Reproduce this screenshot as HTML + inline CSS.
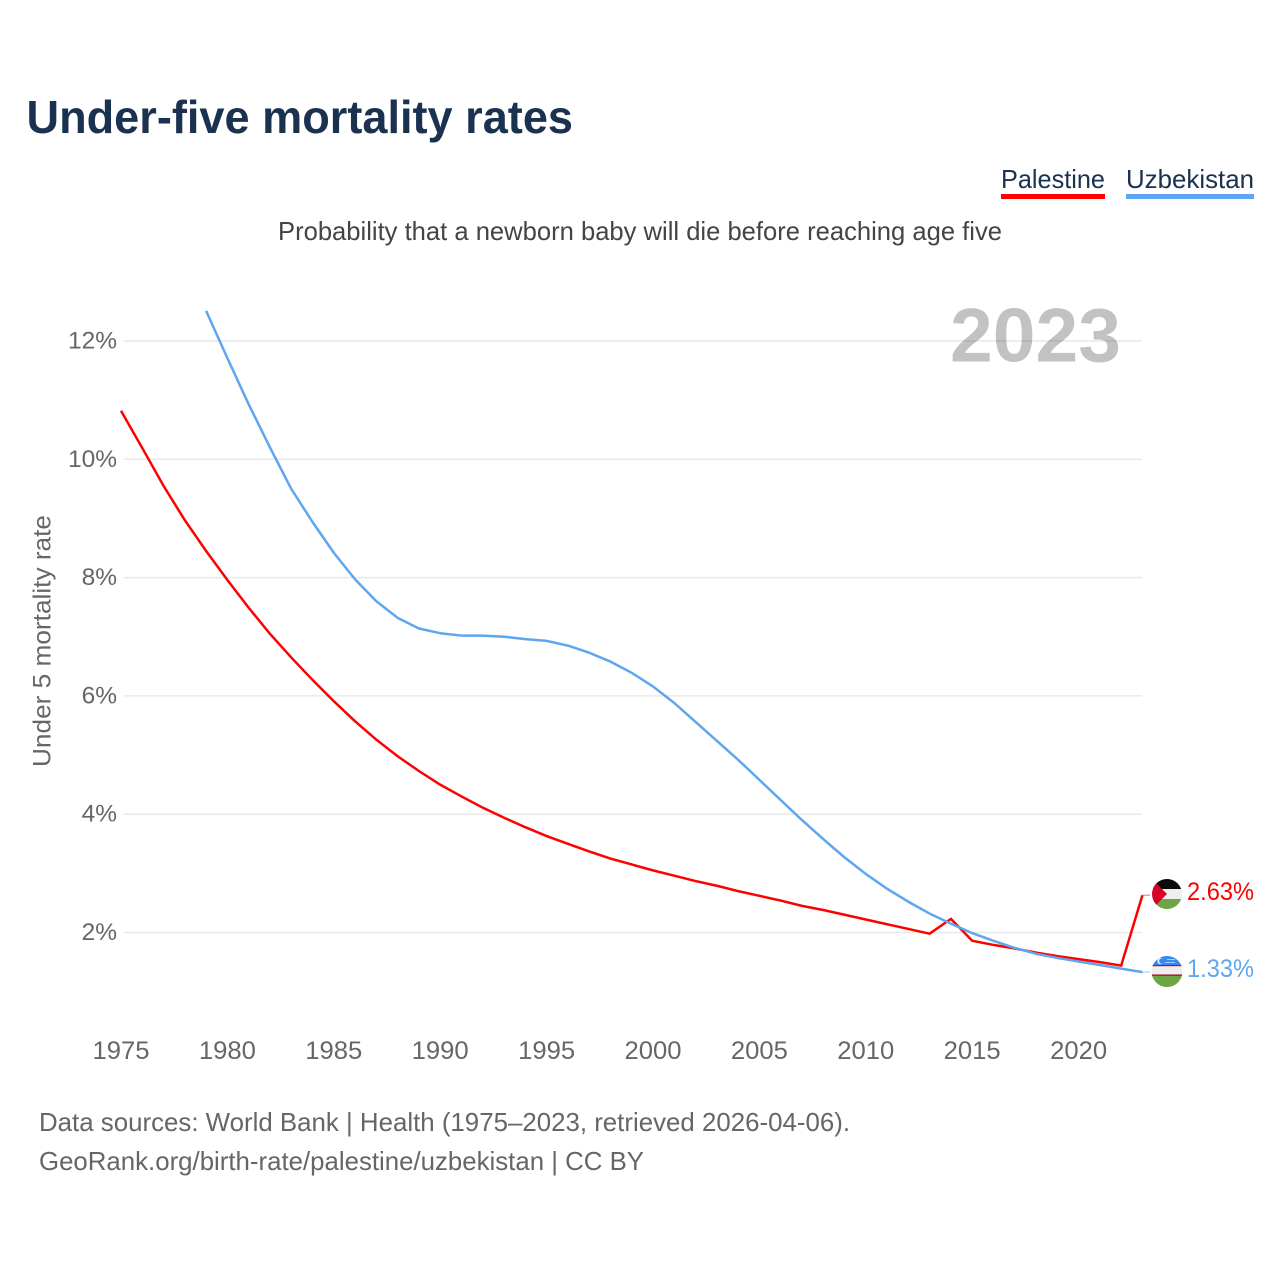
<!DOCTYPE html>
<html lang="en">
<head>
<meta charset="utf-8">
<title>Under-five mortality rates</title>
<style>
html,body{margin:0;padding:0;background:#fff;}
svg{display:block;}
text{font-family:"Liberation Sans",sans-serif;}
</style>
</head>
<body>
<svg id="chart" xmlns="http://www.w3.org/2000/svg" width="1280" height="1280" viewBox="0 0 1280 1280">
  <defs>
    <clipPath id="clip-ps"><circle cx="1167" cy="894" r="15"/></clipPath>
    <clipPath id="clip-uz"><circle cx="1167" cy="971.5" r="15.5"/></clipPath>
  </defs>
  <rect width="1280" height="1280" fill="#fff"/>
  <text x="26.5" y="133" font-size="46" font-weight="700" fill="#1a3150" textLength="546.5" lengthAdjust="spacingAndGlyphs">Under-five mortality rates</text>
  <text x="278" y="240" font-size="26" fill="#444" textLength="724" lengthAdjust="spacingAndGlyphs">Probability that a newborn baby will die before reaching age five</text>

  <g>
    <text x="1001" y="188" font-size="26" fill="#1a3150" textLength="104" lengthAdjust="spacingAndGlyphs">Palestine</text>
    <rect x="1001" y="194" width="104" height="5" fill="#ff0000"/>
  </g>
  <g>
    <text x="1126" y="188" font-size="26" fill="#1a3150" textLength="128" lengthAdjust="spacingAndGlyphs">Uzbekistan</text>
    <rect x="1126" y="194" width="128" height="5" fill="#5ea6ee"/>
  </g>

  <g id="grid"></g>
  <g id="y-ticks"></g>
  <g id="x-ticks"></g>

  <text x="950" y="361.5" font-size="76" font-weight="700" fill="#000" fill-opacity="0.24" textLength="171" lengthAdjust="spacingAndGlyphs">2023</text>
  <text transform="translate(50.5,767) rotate(-90)" x="0" y="0" font-size="25" fill="#666" textLength="252" lengthAdjust="spacingAndGlyphs">Under 5 mortality rate</text>

  <g id="series"></g>

  <g clip-path="url(#clip-ps)">
    <rect x="1150" y="878" width="34" height="11" fill="#0a0a0a"/>
    <rect x="1150" y="889" width="34" height="10" fill="#eeeeee"/>
    <rect x="1150" y="899" width="34" height="11" fill="#6da544"/>
    <polygon points="1150,877 1167,894 1150,911" fill="#d80027"/>
  </g>
  <g clip-path="url(#clip-uz)">
    <rect x="1150" y="955" width="34" height="11" fill="#338af3"/>
    <rect x="1150" y="965.5" width="34" height="10" fill="#eeeeee"/>
    <rect x="1150" y="975.5" width="34" height="12" fill="#6da544"/>
    <rect x="1150" y="965" width="34" height="1.2" fill="#d80027"/>
    <rect x="1150" y="974.5" width="34" height="1.2" fill="#a2001d"/>
    <circle cx="1160.5" cy="961" r="3.2" fill="#eeeeee"/>
    <circle cx="1162" cy="961" r="2.8" fill="#338af3"/>
    <rect x="1167" y="959" width="8" height="1" fill="#a9cdf8"/>
    <rect x="1165" y="962" width="10" height="1" fill="#a9cdf8"/>
  </g>

  <text x="1187" y="900" font-size="25" fill="#ff0000" textLength="67" lengthAdjust="spacingAndGlyphs">2.63%</text>
  <text x="1187" y="977" font-size="25" fill="#5ea6ee" textLength="67" lengthAdjust="spacingAndGlyphs">1.33%</text>

  <text x="39" y="1131" font-size="26" fill="#666" textLength="811" lengthAdjust="spacingAndGlyphs">Data sources: World Bank | Health (1975–2023, retrieved 2026-04-06).</text>
  <text x="39" y="1170" font-size="26" fill="#666" textLength="605" lengthAdjust="spacingAndGlyphs">GeoRank.org/birth-rate/palestine/uzbekistan | CC BY</text>
</svg>
<script>
const yTickValues = [2, 4, 6, 8, 10, 12];
const xTickYears = [1975, 1980, 1985, 1990, 1995, 2000, 2005, 2010, 2015, 2020];
const palestineStartYear = 1975;
const palestineValues = [10.82, 10.19, 9.55, 8.97, 8.45, 7.96, 7.49, 7.05, 6.65, 6.27, 5.91, 5.57, 5.26, 4.98, 4.73, 4.5, 4.3, 4.11, 3.94, 3.78, 3.63, 3.5, 3.37, 3.25, 3.15, 3.05, 2.96, 2.87, 2.79, 2.7, 2.62, 2.54, 2.45, 2.38, 2.3, 2.22, 2.14, 2.06, 1.98, 2.23, 1.86, 1.79, 1.73, 1.66, 1.6, 1.55, 1.5, 1.44, 2.63];
const uzbekistanStartYear = 1979;
const uzbekistanValues = [12.51, 11.71, 10.93, 10.2, 9.5, 8.94, 8.42, 7.97, 7.6, 7.32, 7.14, 7.06, 7.02, 7.02, 7.0, 6.96, 6.93, 6.85, 6.73, 6.58, 6.39, 6.16, 5.88, 5.56, 5.24, 4.92, 4.58, 4.24, 3.9, 3.58, 3.27, 2.99, 2.74, 2.52, 2.32, 2.15, 1.99, 1.86, 1.74, 1.64, 1.57, 1.51, 1.45, 1.39, 1.33];

const NS = 'http://www.w3.org/2000/svg';
function xScale(year) { return 121 + (year - 1975) * 21.28; }
function yScale(value) { return 932.5 - (value - 2) * 59.15; }
function make(tag, attrs, parent) {
  const el = document.createElementNS(NS, tag);
  for (const k in attrs) el.setAttribute(k, attrs[k]);
  parent.appendChild(el);
  return el;
}

const gridGroup = document.getElementById('grid');
const yGroup = document.getElementById('y-ticks');
const xGroup = document.getElementById('x-ticks');
const seriesGroup = document.getElementById('series');

yTickValues.forEach(function (v) {
  const line = make('line', { x1: 124, x2: 1142, y1: yScale(v), y2: yScale(v), stroke: '#e9e9e9', 'stroke-width': 1.5 }, gridGroup);
  
  
  const label = make('text', { x: 117, y: yScale(v) + 7.5, 'text-anchor': 'end', 'font-size': 24.5, fill: '#666' }, yGroup);
  
  
  label.textContent = v + '%';
});

xTickYears.forEach(function (year) {
  const label = make('text', { x: xScale(year), y: 1059, 'text-anchor': 'middle', 'font-size': 25, fill: '#666', textLength: 57, lengthAdjust: 'spacingAndGlyphs' }, xGroup);
  
  
  label.textContent = year;
});

function seriesPoints(startYear, values) {
  return values.map(function (v, i) {
    return xScale(startYear + i).toFixed(2) + ',' + yScale(v).toFixed(2);
  }).join(' ');
}

const palestineLine = make('polyline', { points: seriesPoints(palestineStartYear, palestineValues), fill: 'none', stroke: '#ff0000', 'stroke-width': 2.5, 'stroke-linejoin': 'miter' }, seriesGroup);



const palestineLast = palestineValues[palestineValues.length - 1];
const palestineLeader = make('line', { x1: xScale(2023), x2: 1150, y1: yScale(palestineLast), y2: yScale(palestineLast), stroke: '#ff0000', 'stroke-opacity': 0.4, 'stroke-width': 1.5 }, seriesGroup);



const uzbekistanLine = make('polyline', { points: seriesPoints(uzbekistanStartYear, uzbekistanValues), fill: 'none', stroke: '#5ea6ee', 'stroke-width': 2.5, 'stroke-linejoin': 'round' }, seriesGroup);



const uzbekistanLast = uzbekistanValues[uzbekistanValues.length - 1];
const uzbekistanLeader = make('line', { x1: xScale(2023), x2: 1150, y1: yScale(uzbekistanLast), y2: yScale(uzbekistanLast), stroke: '#5ea6ee', 'stroke-opacity': 0.4, 'stroke-width': 1.5 }, seriesGroup);


</script>
</body>
</html>
